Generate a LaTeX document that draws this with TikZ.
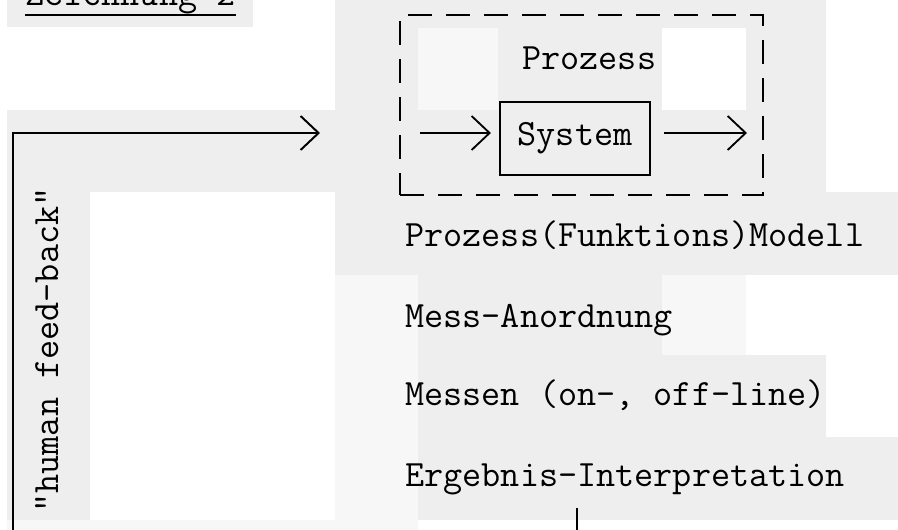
\documentclass[tikz,border=0pt]{standalone}
\usepackage{fontspec}
\usepackage{xcolor}
\usepackage{tikz}
\usetikzlibrary{arrows.meta,positioning,calc}

\definecolor{scangray}{HTML}{EEEEEE}
\definecolor{scanlight}{HTML}{F7F7F7}

\begin{document}
\begin{tikzpicture}[
  x=0.025cm,
  y=-0.025cm,
  font=\ttfamily\fontsize{26.4}{31}\selectfont,
  >={Straight Barb[length=4.5mm,width=8.5mm]},
  patch/.style={fill=scangray, draw=none},
  lightpatch/.style={fill=scanlight, draw=none},
  flow/.style={->, line width=1.3pt, draw=black},
  fbline/.style={->, line width=1.4pt, draw=black},
  sysbox/.style={draw=black, line width=1.5pt, minimum width=3.75cm,
    minimum height=1.825cm, inner sep=0pt},
  procbox/.style={draw=black, line width=1.3pt,
    dash pattern=on 0.6cm off 0.35cm, minimum width=9.075cm,
    minimum height=4.5cm, inner sep=0pt},
  textline/.style={anchor=base west, inner sep=0pt}
]

\useasboundingbox (0,0) rectangle (898,530);
\clip (0,0) rectangle (898,530);

% scan background
\fill[white] (0,0) rectangle (898,530);
\fill[patch] (7,0) rectangle (253,27);
\fill[patch] (335,0) rectangle (826,192);
\fill[lightpatch] (418,28) rectangle (498,110);
\fill[white] (662,28) rectangle (746,110);
\fill[patch] (7,110) rectangle (335,192);
\fill[patch] (7,192) rectangle (90,520);
\fill[patch] (335,192) rectangle (898,275);
\fill[lightpatch] (335,275) rectangle (418,520);
\fill[patch] (418,275) rectangle (662,355);
\fill[lightpatch] (662,275) rectangle (746,355);
\fill[patch] (418,355) rectangle (826,437);
\fill[patch] (418,437) rectangle (898,520);
\fill[lightpatch] (7,520) rectangle (418,530);

% title, cut by the scan
\node[textline] (title) at (25,6) {Zeichnung 2};
\draw[line width=1.3pt] (title.south west) -- (title.south east);

% process
\node[procbox] (prozess) at (581.5,105) {};
\node[textline] (prozlabel) at (522,70) {Prozess};
\node[sysbox] (system) at (575,138.5) {System};
\coordinate (pin) at (420,133);
\coordinate (pout) at (747,133);
\draw[flow, shorten >=0.2cm] (pin) -- (pin -| system.west);
\draw[flow, shorten <=0.33cm] (pout -| system.east) -- (pout);

% steps
\node[textline] (modell) at (405,247) {Prozess(Funktions)Modell};
\node[textline] (anordnung) at (405,327) {Mess-Anordnung};
\node[textline] (messen) at (405,405) {Messen (on-, off-line)};
\node[textline] (ergebnis) at (405,486) {Ergebnis-Interpretation};

% feedback loop
\coordinate (fbstart) at (577,508);
\coordinate (fbcorner) at (13,133);
\coordinate (fbtip) at (320,133);
\draw[fbline] (fbstart) -- ++(0,24) -| (fbcorner) -- (fbtip);
\node[rotate=90, anchor=base, inner sep=0pt] (feedback) at (58,350)
  {"human feed-back"};

\end{tikzpicture}
\end{document}
